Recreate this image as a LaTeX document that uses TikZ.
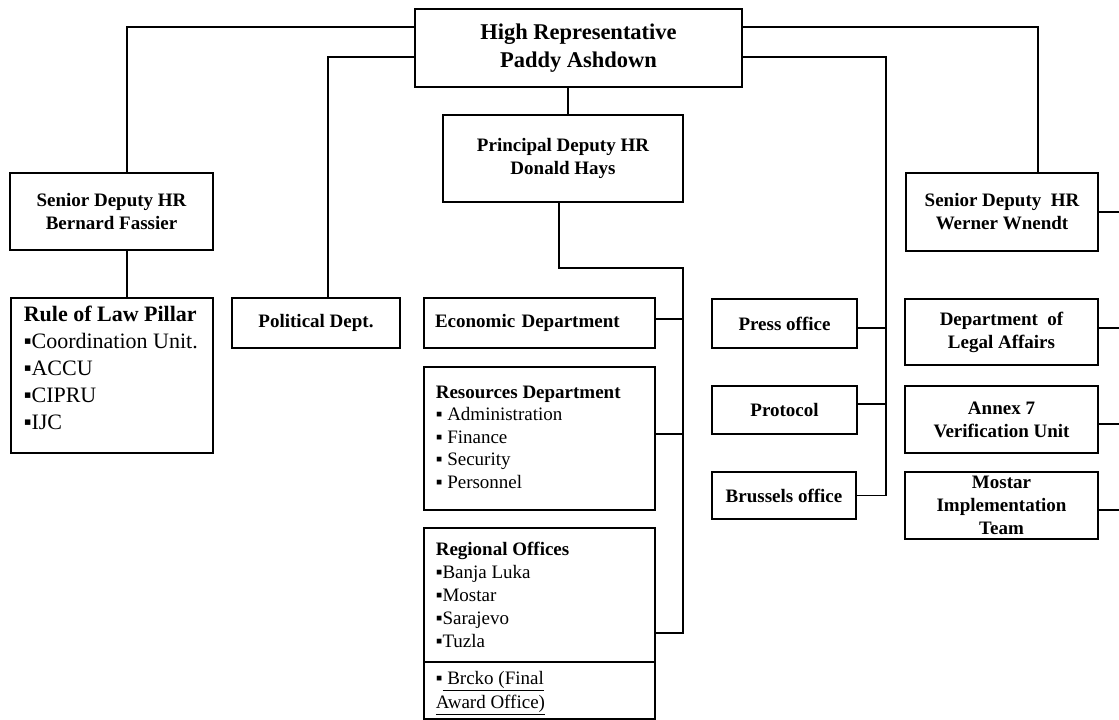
\documentclass[tikz,border=0pt]{standalone}
\usepackage{fontspec}
\setmainfont{Liberation Serif}
\usetikzlibrary{positioning}

\begin{document}
\begin{tikzpicture}[x=1pt, y=-1pt, line width=1.6pt,
    box/.style={draw, rectangle, inner sep=0pt, align=center, font=\fontsize{19}{23}\selectfont\bfseries},
    listbox/.style={draw, rectangle, inner sep=0pt},
    listtext/.style={anchor=north west, inner sep=0pt, align=left, font=\fontsize{19}{22.5}\selectfont}]

    \useasboundingbox (0,0) rectangle (1119,720);

    % heads
    \node[box, minimum width=327pt, minimum height=78pt, font=\fontsize{22.5}{28}\selectfont\bfseries] (hr) at (578.5, 48) {High Representative\\Paddy Ashdown};
    \node[box, minimum width=240pt, minimum height=87pt] (pdhr) at (563, 158.5) {Principal Deputy HR\\Donald Hays};
    \node[box, minimum width=203pt, minimum height=77pt] (sdl) at (111.5, 211.5) {Senior Deputy HR\\Bernard Fassier};
    \node[box, minimum width=192pt, minimum height=78pt] (sdr) at (1002, 212) {Senior Deputy\ \ HR\\Werner Wnendt};

    % left column
    \node[listbox, minimum width=202pt, minimum height=155pt] (rol) at (112, 375.5) {};
    \node[listtext, font=\fontsize{22}{27}\selectfont] (rol text) at (23, 305) {\textbf{Rule of Law Pillar}\\▪Coordination Unit.\\▪ACCU\\▪CIPRU\\▪IJC};
    \node[box, minimum width=168pt, minimum height=50pt] (pol) at (316, 323) {Political Dept.};

    % middle column
    \node[box, minimum width=231pt, minimum height=50pt, text width=209pt, inner xsep=11pt, align=left] (eco) at (539.5, 323) {Economic Department};
    \node[listbox, minimum width=231pt, minimum height=143pt] (res) at (539.5, 438.5) {};
    \node[listtext] (res text) at (435, 385) {\textbf{Resources Department}\\▪ Administration\\▪ Finance\\▪ Security\\▪ Personnel};
    \node[listbox, minimum width=231pt, minimum height=134pt] (reg) at (539.5, 595) {};
    \node[listtext, font=\fontsize{19}{23}\selectfont] (reg text) at (435, 541) {\textbf{Regional Offices}\\▪Banja Luka\\▪Mostar\\▪Sarajevo\\▪Tuzla};
    \node[listbox, minimum width=231pt, minimum height=57pt] (brc) at (539.5, 690.5) {};
    \node[listtext, font=\fontsize{19}{24}\selectfont] (brc text) at (435, 671) {▪\underline{ Brcko (Final}\\\underline{Award Office)}};

    % offices
    \node[box, minimum width=145pt, minimum height=49pt] (press) at (784.5, 323.5) {Press office};
    \node[box, minimum width=145pt, minimum height=48pt] (prot) at (784.5, 410) {Protocol};
    \node[box, minimum width=144pt, minimum height=47pt] (bru) at (784, 495.5) {Brussels office};

    % right column
    \node[box, minimum width=193pt, minimum height=66pt] (leg) at (1001.5, 332) {Department\ \ of\\Legal Affairs};
    \node[box, minimum width=193pt, minimum height=67pt] (ann) at (1001.5, 419.5) {Annex 7\\Verification Unit};
    \node[box, minimum width=193pt, minimum height=67pt] (mos) at (1001.5, 505.5) {Mostar\\Implementation\\Team};

    \coordinate (mtop) at (683, 268);
    \coordinate (mbot) at (683, 633);
    \coordinate (pspine) at (886, 0);
    \coordinate (redge) at (1119, 0);

    % lines from the top
    \draw ([yshift=21pt]hr.west) -| ([xshift=15.5pt]sdl.north);
    \draw ([yshift=-9pt]hr.west) -| ([xshift=12pt]pol.north);
    \draw ([yshift=21pt]hr.east) -| ([xshift=36pt]sdr.north);
    \draw ([xshift=5pt]pdhr.north) -- ([xshift=5pt]pdhr.north |- hr.south);
    \draw ([xshift=15.5pt]sdl.south) -- ([xshift=15.5pt]sdl.south |- rol.north);
    % offices branch
    \draw ([yshift=-9pt]hr.east) -| (bru.east -| pspine) -- (bru.east);
    \draw ([yshift=-4.5pt]press.east) -- ([yshift=-4.5pt]press.east -| pspine);
    \draw ([yshift=6pt]prot.east) -- ([yshift=6pt]prot.east -| pspine);
    % departments branch
    \draw ([xshift=-4pt]pdhr.south) |- (mtop) -- (mbot) -- ([yshift=-38pt]reg.east);
    \draw ([yshift=4pt]eco.east) -- ([yshift=4pt]eco.east -| mtop);
    \draw ([yshift=4.5pt]res.east) -- ([yshift=4.5pt]res.east -| mtop);
    % right edge
    \draw (sdr.east) -- (sdr.east -| redge);
    \draw ([yshift=4pt]leg.east) -- ([yshift=4pt]leg.east -| redge);
    \draw ([yshift=-4.5pt]ann.east) -- ([yshift=-4.5pt]ann.east -| redge);
    \draw ([yshift=-4.5pt]mos.east) -- ([yshift=-4.5pt]mos.east -| redge);
\end{tikzpicture}
\end{document}
